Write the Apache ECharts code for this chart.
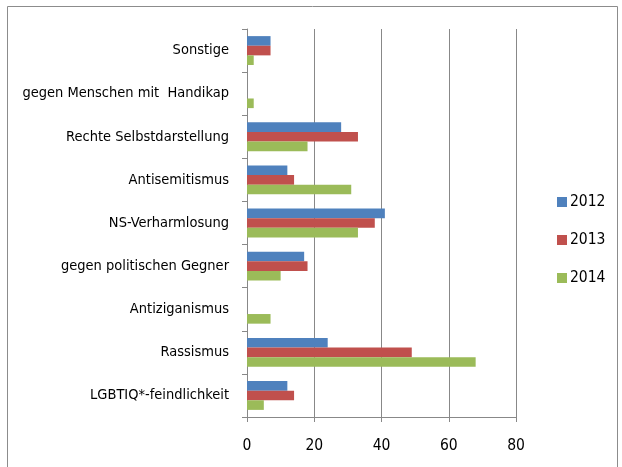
<!DOCTYPE html>
<html>
<head>
<meta charset="utf-8">
<script src="https://cdn.jsdelivr.net/npm/echarts@6/dist/echarts.min.js"></script>
<style>html,body{margin:0;padding:0;background:#fff}#c{width:622px;height:467px}</style>
</head>
<body>
<div id="c"></div>
<script>
// Categories listed top to bottom
const categories = ["Sonstige", "gegen Menschen mit  Handikap", "Rechte Selbstdarstellung", "Antisemitismus", "NS-Verharmlosung", "gegen politischen Gegner", "Antiziganismus", "Rassismus", "LGBTIQ*-feindlichkeit"];
const seriesNames = ["2012", "2013", "2014"];
const v2012 = [7, 0, 28, 12, 41, 17, 0, 24, 12];
const v2013 = [7, 0, 33, 14, 38, 18, 0, 49, 14];
const v2014 = [2, 2, 18, 31, 33, 10, 7, 68, 5];
const xTicks = [0, 20, 40, 60, 80];
const colors = ["#4F81BD", "#C0504D", "#9BBB59"];

// pick a narrow font if installed
const cv = document.createElement('canvas').getContext('2d');
function w(font) { cv.font = font; return cv.measureText(categories[1]).width; }
const candidates = ['Liberation Sans Narrow', 'DejaVu Sans Condensed', 'Arial Narrow', 'Roboto Condensed', 'Open Sans Condensed', 'Roboto'];
let FAM = 'Roboto';
for (const c of candidates) {
  const a = w('100px "' + c + '", monospace'), b = w('100px monospace');
  const a2 = w('100px "' + c + '", serif'), b2 = w('100px serif');
  if (Math.abs(a - b) > 1 || Math.abs(a2 - b2) > 1) { FAM = c; break; }
}
const FONT = '"' + FAM + '", sans-serif';
// size so that the longest label is about 209px wide
let fs = 16;
while (fs > 10 && w(fs + 'px ' + FONT) > 211) fs -= 0.5;

const chart = echarts.init(document.getElementById('c'), null, {renderer: 'canvas'});
const values = [v2012, v2013, v2014];
chart.setOption({
  animation: false,
  color: colors,
  textStyle: {fontFamily: FONT},
  graphic: [{
    type: 'rect', shape: {x: 7.5, y: 6.5, width: 610, height: 480},
    style: {fill: 'none', stroke: '#8c8c8c', lineWidth: 1}, silent: true
  }],
  grid: {left: 247, right: 106, top: 29, bottom: 50, containLabel: false, outerBoundsMode: 'none'},
  legend: {
    orient: 'vertical', left: 552, top: 189, itemGap: 22,
    itemWidth: 10, itemHeight: 10, icon: 'rect',
    textStyle: {fontFamily: FONT, fontSize: fs + 1, color: '#000', padding: [0, 0, 0, -2]},
    data: seriesNames
  },
  xAxis: {
    type: 'value', min: 0, max: 80, interval: 20,
    axisLine: {show: true, lineStyle: {color: '#888', width: 1}},
    axisTick: {show: true, length: 5, lineStyle: {color: '#888'}},
    splitLine: {show: true, lineStyle: {color: '#888', width: 1}},
    axisLabel: {fontFamily: FONT, fontSize: fs + 1, color: '#000', margin: 21,
      formatter: v => xTicks.includes(v) ? String(v) : ''}
  },
  yAxis: {
    type: 'category', inverse: true, data: categories,
    axisLine: {show: true, lineStyle: {color: '#888', width: 1}},
    axisTick: {show: true, length: 5, inside: false, lineStyle: {color: '#888'}},
    axisLabel: {fontFamily: FONT, fontSize: fs, color: '#000', margin: 18}
  },
  series: seriesNames.map((n, i) => ({
    name: n, type: 'bar', data: values[i],
    barGap: '0%', barCategoryGap: '33%',
    itemStyle: {color: colors[i]}
  }))
});
</script>
</body>
</html>
